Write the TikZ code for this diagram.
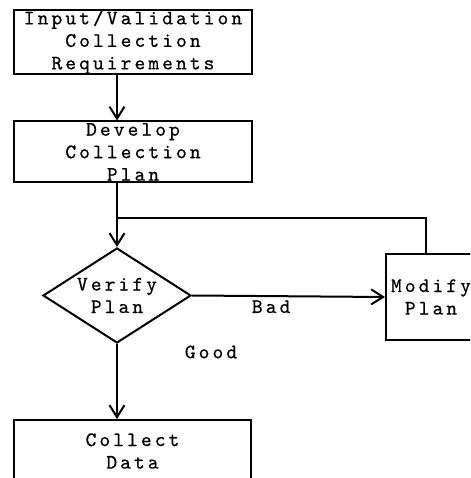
\documentclass[tikz,border=0pt]{standalone}
\usepackage{fontspec}
\setmonofont{lmmono10-regular}[Extension=.otf, LetterSpace=15, FakeBold=0.5]
\usepackage{tikz}
\usetikzlibrary{shapes.geometric, arrows.meta, positioning}

\tikzset{
  flowbox/.style={draw, rectangle, line width=2pt, align=center, inner sep=0pt},
  decision/.style={draw, diamond, line width=2pt, align=center, inner sep=0pt, aspect=1.56},
  flow/.style={line width=2pt, -{Straight Barb[length=12pt,width=15pt]}},
}

\begin{document}
\begin{tikzpicture}[x=1pt, y=-1pt, font=\ttfamily\fontsize{20.5}{22.5}\selectfont]
  \clip (0,0) rectangle (470,478);
  \node[flowbox, minimum width=238pt, minimum height=61pt] (input) at (133,42)
    {Input/Validation\\Collection\\Requirements};
  \node[flowbox, minimum width=238pt, minimum height=61pt] (develop) at (133,152)
    {Develop\\Collection\\Plan};
  \node[decision, minimum width=148pt, minimum height=95pt] (verify) at (117,295.5)
    {Verify\\Plan};
  \node[flowbox, minimum width=90pt, minimum height=86pt] (modify) at (431,297)
    {Modify\\Plan};
  \node[flowbox, minimum width=237pt, minimum height=62pt] (collect) at (132.5,451)
    {Collect\\Data};
  \coordinate (merge) at (117,218);

  \draw[flow] (input.south -| verify.north) -- (develop.north -| verify.north);
  \draw[flow] (develop.south -| verify.north) -- (verify.north);
  \draw[line width=2pt] ([xshift=-5pt]modify.north) |- (merge);
  \draw[flow] (verify.east) -- (modify.west) node[pos=0.41, below] {Bad};
  \draw[flow] (verify.south) -- (verify.south |- collect.north);
  \node (good) at (211,352) {Good};
\end{tikzpicture}
\end{document}
